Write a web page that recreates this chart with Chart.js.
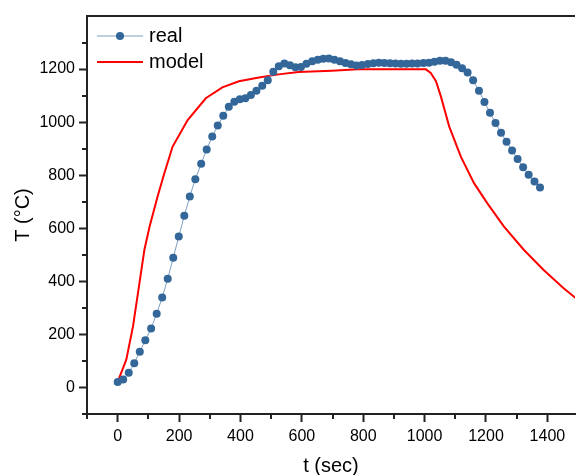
<!DOCTYPE html>
<html>
<head>
<meta charset="utf-8">
<script src="https://cdn.jsdelivr.net/npm/chart.js@4"></script>
<style>
  html, body { margin: 0; padding: 0; background: #fff; overflow: hidden; }
  #wrap { width: 579px; height: 475px; position: relative; }
</style>
</head>
<body>
<div id="wrap"><canvas id="tempChart"></canvas></div>
<script>
// measured ("real") series, sec / deg C
const realTime = [0, 18, 36, 54, 72, 90, 109, 127, 145, 163, 181, 199, 217, 235, 253, 272, 290, 308, 326, 344,
  362, 380, 398, 416, 434, 452, 471, 489, 507, 525, 543, 561, 579, 597, 615, 634, 652, 670, 688, 706,
  724, 742, 760, 778, 796, 815, 833, 851, 869, 887, 905, 923, 941, 959, 977, 996, 1014, 1032, 1050, 1068,
  1086, 1104, 1122, 1140, 1158, 1177, 1195, 1213, 1231, 1249, 1267, 1285, 1303, 1321, 1339, 1358, 1376];
const realTemp = [21, 30, 55, 91, 135, 178, 222, 278, 339, 410, 489, 569, 647, 720, 785, 843, 897, 946, 987, 1024,
  1058, 1077, 1086, 1090, 1102, 1118, 1137, 1158, 1190, 1211, 1221, 1214, 1207, 1208, 1220, 1229, 1235, 1239, 1240, 1235,
  1229, 1223, 1218, 1213, 1215, 1219, 1222, 1224, 1223, 1222, 1221, 1220, 1220, 1221, 1221, 1223, 1224, 1228, 1231, 1231,
  1226, 1216, 1203, 1187, 1158, 1118, 1076, 1035, 997, 960, 926, 893, 861, 830, 802, 776, 754];

// model series
const modelTime = [0, 28, 50, 71, 87, 104, 130, 152, 179, 228, 287, 341, 395, 460, 524, 589, 697, 783, 1004,
  1020, 1037, 1053, 1080, 1118, 1161, 1204, 1258, 1323, 1387, 1452, 1492, 1520];
const modelTemp = [21, 105, 231, 394, 519, 607, 720, 807, 908, 1008, 1090, 1131, 1154, 1168, 1180, 1189, 1194, 1199, 1199,
  1185, 1154, 1097, 984, 870, 770, 695, 607, 519, 444, 375, 337, 312];

// axis ticks (major = labelled, minor = short marks)
const xMajor = [0, 200, 400, 600, 800, 1000, 1200, 1400];
const xMinor = [-100, 100, 300, 500, 700, 900, 1100, 1300];
const yMajor = [0, 200, 400, 600, 800, 1000, 1200];
const yMinor = [-100, 100, 300, 500, 700, 900, 1100, 1300];

const FONT = '"Liberation Sans", Arial, sans-serif';
const AXIS = '#222';
const REAL_DOT = '#336799';
const REAL_LINE = '#7f9fc4';
const MODEL = '#ff0000';

const toPoints = (xs, ys) => xs.map((x, i) => ({ x: x, y: ys[i] }));

// top frame line, minor ticks, and the legend inside the plot area
const framePlugin = {
  id: 'frame',
  afterDraw(chart) {
    const { ctx, chartArea, scales } = chart;
    ctx.save();
    ctx.strokeStyle = AXIS;
    ctx.lineWidth = 2;
    ctx.beginPath();
    ctx.moveTo(chartArea.left - 1, chartArea.top);
    ctx.lineTo(chartArea.right, chartArea.top);
    ctx.stroke();

    ctx.lineWidth = 2;
    ctx.beginPath();
    xMinor.forEach(v => {
      const px = Math.round(scales.x.getPixelForValue(v));
      ctx.moveTo(px, chartArea.bottom);
      ctx.lineTo(px, chartArea.bottom + 5);
    });
    yMinor.forEach(v => {
      const py = Math.round(scales.y.getPixelForValue(v));
      ctx.moveTo(chartArea.left, py);
      ctx.lineTo(chartArea.left - 5, py);
    });
    ctx.stroke();

    const x0 = chartArea.left + 10, x1 = chartArea.left + 56;
    const y1 = chartArea.top + 20, y2 = chartArea.top + 46;
    ctx.strokeStyle = REAL_LINE;
    ctx.lineWidth = 1;
    ctx.beginPath(); ctx.moveTo(x0, y1); ctx.lineTo(x1, y1); ctx.stroke();
    ctx.fillStyle = REAL_DOT;
    ctx.beginPath(); ctx.arc((x0 + x1) / 2, y1, 4, 0, Math.PI * 2); ctx.fill();
    ctx.strokeStyle = MODEL;
    ctx.lineWidth = 2;
    ctx.beginPath(); ctx.moveTo(x0, y2); ctx.lineTo(x1, y2); ctx.stroke();

    ctx.fillStyle = '#000';
    ctx.font = '20px ' + FONT;
    ctx.textBaseline = 'middle';
    ctx.fillText('real', x1 + 6, y1);
    ctx.fillText('model', x1 + 6, y2);
    ctx.restore();
  }
};

new Chart(document.getElementById('tempChart'), {
  type: 'line',
  data: {
    datasets: [{
      label: 'real',
      data: toPoints(realTime, realTemp),
      borderColor: REAL_LINE,
      borderWidth: 1,
      pointRadius: 4,
      pointBorderWidth: 0,
      pointBackgroundColor: REAL_DOT,
      pointBorderColor: REAL_DOT,
      tension: 0
    }, {
      label: 'model',
      data: toPoints(modelTime, modelTemp),
      borderColor: MODEL,
      borderWidth: 2,
      pointRadius: 0,
      tension: 0
    }]
  },
  options: {
    responsive: true,
    maintainAspectRatio: false,
    animation: false,
    layout: { padding: { top: 16, right: 0, left: 0, bottom: 0 } },
    plugins: { legend: { display: false }, tooltip: { enabled: false } },
    scales: {
      x: {
        type: 'linear',
        min: -100,
        max: 1490,
        afterBuildTicks: s => { s.ticks = xMajor.map(v => ({ value: v })); },
        afterFit: s => { s.height = 61; },
        border: { display: true, color: AXIS, width: 2 },
        grid: { drawOnChartArea: false, drawTicks: true, tickLength: 8, tickColor: AXIS, tickWidth: 2 },
        ticks: {
          autoSkip: false,
          maxRotation: 0,
          padding: 5,
          color: '#000',
          font: { family: FONT, size: 16 },
          callback: v => String(v)
        },
        title: { display: true, text: 't (sec)', color: '#000', font: { family: FONT, size: 20 }, padding: { top: 0, bottom: -3 } }
      },
      y: {
        min: -100,
        max: 1400,
        afterBuildTicks: s => { s.ticks = yMajor.map(v => ({ value: v })); },
        afterFit: s => { s.width = 87; },
        border: { display: true, color: AXIS, width: 2 },
        grid: { drawOnChartArea: false, drawTicks: true, tickLength: 8, tickColor: AXIS, tickWidth: 2 },
        ticks: {
          autoSkip: false,
          padding: 4,
          color: '#000',
          font: { family: FONT, size: 16 },
          callback: v => String(v)
        },
        title: { display: true, text: 'T (°C)', color: '#000', font: { family: FONT, size: 20 }, padding: { top: 11, bottom: 0 } }
      }
    }
  },
  plugins: [framePlugin]
});
</script>
</body>
</html>
